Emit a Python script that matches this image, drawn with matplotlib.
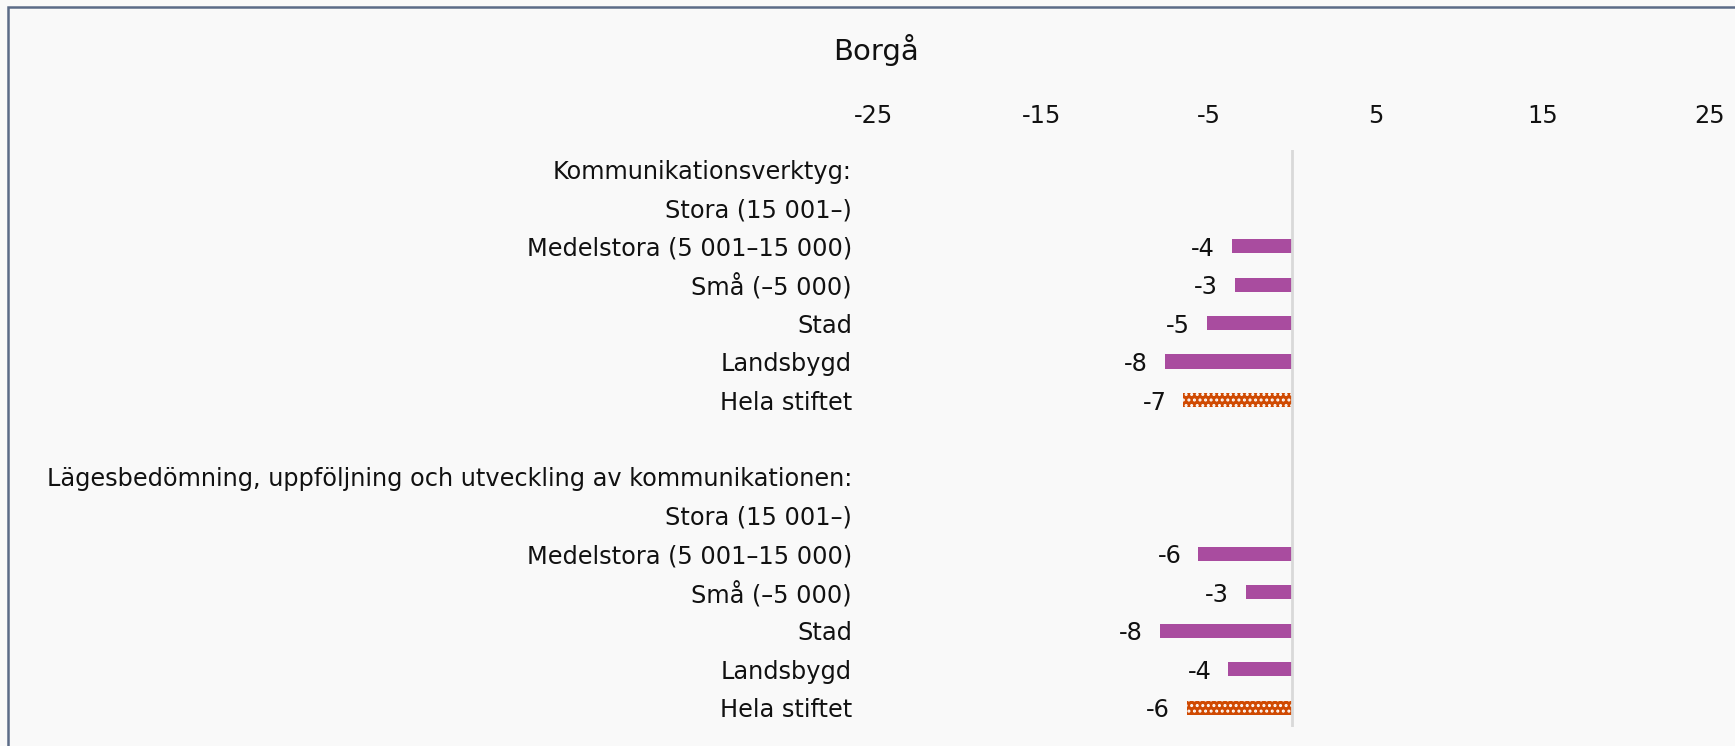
import matplotlib
matplotlib.use("Agg")
import matplotlib.pyplot as plt
from matplotlib.patches import Rectangle
import numpy as np

plt.rcParams['font.family'] = ['DejaVu Sans']
plt.rcParams['hatch.color'] = 'white'
plt.rcParams['hatch.linewidth'] = 1.4

title = "Borgå"
categories = [
    "Kommunikationsverktyg:",
    "Stora (15 001–)",
    "Medelstora (5 001–15 000)",
    "Små (–5 000)",
    "Stad",
    "Landsbygd",
    "Hela stiftet",
    "",
    "Lägesbedömning, uppföljning och utveckling av kommunikationen:",
    "Stora (15 001–)",
    "Medelstora (5 001–15 000)",
    "Små (–5 000)",
    "Stad",
    "Landsbygd",
    "Hela stiftet",
]
values = [None, None, -3.6, -3.4, -5.1, -7.6, -6.5,
          None,
          None, None, -5.6, -2.75, -7.9, -3.8, -6.3]
labels = [None, None, "-4", "-3", "-5", "-8", "-7",
          None,
          None, None, "-6", "-3", "-8", "-4", "-6"]
total_rows = {"Hela stiftet"}
xticks = [-25, -15, -5, 5, 15, 25]

BG = '#f9f9f9'
PURPLE = '#a94c9f'
ORANGE = '#d04a02'
FS = 17.3

fig = plt.figure(figsize=(17.35, 7.46), dpi=100, facecolor=BG)
ax = fig.add_axes([874/1735, 1-727/746, (1710-874)/1735, (727-150)/746])
ax.set_facecolor(BG)

ypos = np.arange(len(categories))
for y, v, lab, cat in zip(ypos, values, labels, categories):
    if v is None:
        continue
    if cat in total_rows:
        ax.barh(y, v, height=0.37, color=ORANGE, hatch='...', linewidth=0)
    else:
        ax.barh(y, v, height=0.37, color=PURPLE, linewidth=0)
    ax.annotate(lab, xy=(v, y), xytext=(-12.2, 0), textcoords='offset points',
                ha='right', va='center_baseline', fontsize=FS, color='#111111')

ax.axvline(0, color='#d9d9d9', linewidth=2, zorder=3)

ax.set_xlim(-25, 25)
ax.set_ylim(len(categories) - 0.5, -0.5)
ax.xaxis.tick_top()
ax.set_xticks(xticks)
ax.set_xticklabels([str(t) for t in xticks])
ax.set_yticks(ypos)
ax.set_yticklabels(categories)
ax.tick_params(axis='x', length=0, pad=16, labelsize=FS, colors='#111111')
ax.tick_params(axis='y', length=0, pad=16, labelsize=FS, colors='#111111')
for s in ax.spines.values():
    s.set_visible(False)

fig.text(876/1735, 1-50/746, title, ha='center', va='center', fontsize=21, color='#111111')

border = Rectangle((8/1735, -0.1), 1.2, 1 - 7/746 + 0.1, transform=fig.transFigure,
                   fill=False, edgecolor='#5b6b87', linewidth=1.8, clip_on=False)
fig.patches.append(border)

fig.savefig('out.png', dpi=100, facecolor=BG)
